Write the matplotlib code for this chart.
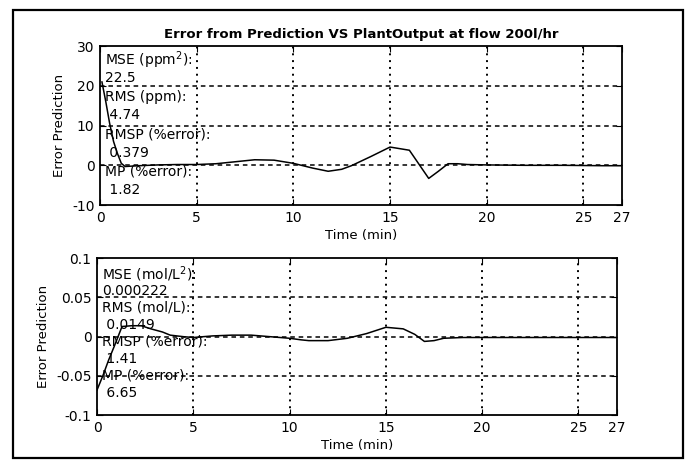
import matplotlib
matplotlib.use("Agg")
import matplotlib.pyplot as plt
from matplotlib.patches import Rectangle

# Concentration prediction error (ppm) over time
t_ppm = [0.1, 0.3, 0.5, 0.7, 0.9, 1.1, 1.3, 2, 3, 4, 5, 6, 7, 8, 9, 10, 11,
         11.8, 12.5, 13, 14, 15, 16, 17, 17.5, 18, 18.5, 19, 20, 22, 24, 26, 27]
err_ppm = [21, 16, 10.5, 6, 3, 0.5, -0.3, -0.1, 0.1, 0.2, 0.2, 0.4, 0.9, 1.4,
           1.3, 0.5, -0.7, -1.5, -1.0, -0.1, 2.2, 4.6, 3.8, -3.3, -1.5, 0.4,
           0.4, 0.2, 0.1, 0.0, 0.0, -0.1, -0.1]

# Concentration prediction error (mol/L) over time
t_mol = [0, 0.3, 0.6, 0.9, 1.3, 1.8, 2.3, 2.8, 3.4, 3.8, 4.5, 5, 6, 7, 8, 9,
         10, 10.6, 11, 12, 13, 14, 15, 15.9, 16.5, 17, 17.5, 18, 19, 20, 22,
         24, 26, 27]
err_mol = [-0.068, -0.05, -0.03, -0.012, 0.013, 0.014, 0.014, 0.010, 0.006,
           0.002, 0.0, -0.001, 0.001, 0.002, 0.002, 0.0, -0.002, -0.004,
           -0.005, -0.005, -0.002, 0.004, 0.012, 0.010, 0.003, -0.006,
           -0.005, -0.002, -0.001, -0.001, -0.001, -0.001, -0.001, -0.001]

x_ticks = [0, 5, 10, 15, 20, 25, 27]
x_grid = [5, 10, 15, 20, 25]
ppm_ticks = [30, 20, 10, 0, -10]
ppm_grid = [20, 10, 0]
mol_ticks = [0.1, 0.05, 0, -0.05, -0.1]
mol_tick_labels = ["0.1", "0.05", "0", "-0.05", "-0.1"]
mol_grid = [0.05, 0, -0.05]

stats_ppm = ["MSE (ppm$^2$):", "22.5", "RMS (ppm):", " 4.74",
             "RMSP (%error):", " 0.379", "MP (%error):", " 1.82"]
stats_mol = ["MSE (mol/L$^2$):", "0.000222", "RMS (mol/L):", " 0.0149",
             "RMSP (%error):", " 1.41", "MP (%error):", " 6.65"]

plt.rcParams["font.family"] = ["DejaVu Sans"]
plt.rcParams["axes.unicode_minus"] = False

fig = plt.figure(figsize=(6.86, 4.67), dpi=100)

# outer frame
fig.patches.append(Rectangle((13 / 686, 1 - 458 / 467), 670 / 686, 448 / 467,
                             transform=fig.transFigure, fill=False,
                             edgecolor="black", linewidth=1.6))

ax1 = fig.add_axes([0.1458, 0.561, 0.761, 0.340])
ax2 = fig.add_axes([0.1414, 0.111, 0.758, 0.336])


def style(ax, yticks, ygrid, ylim):
    ax.set_xlim(0, 27)
    ax.set_ylim(*ylim)
    ax.set_xticks(x_ticks)
    ax.set_yticks(yticks)
    for g in x_grid:
        ax.axvline(g, color="black", linestyle=(0, (1, 2.5)), linewidth=1.4,
                   zorder=1)
    for g in ygrid:
        ax.axhline(g, color="black", linestyle=(0, (3, 2.5)), linewidth=1.1,
                   zorder=1)
    ax.tick_params(direction="in", top=True, right=True, length=4,
                   labelsize=10, pad=4)
    for s in ax.spines.values():
        s.set_linewidth(1.3)
    ax.set_xlabel("Time (min)", fontsize=9.5, labelpad=3)
    ax.set_ylabel("Error Prediction", fontsize=9.5)


style(ax1, ppm_ticks, ppm_grid, (-10, 30))
style(ax2, mol_ticks, mol_grid, (-0.1, 0.1))
ax2.set_yticklabels(mol_tick_labels)

ax1.plot(t_ppm, err_ppm, color="black", linewidth=1.1, zorder=3)
ax2.plot(t_mol, err_mol, color="black", linewidth=1.1, zorder=3)

ax1.set_title("Error from Prediction VS PlantOutput at flow 200l/hr",
              fontsize=9.5, fontweight="bold", pad=6)

for i, s in enumerate(stats_ppm):
    ax1.text(0.01, 0.915 - i * 0.117, s, transform=ax1.transAxes,
             fontsize=10, va="center", ha="left", zorder=4)
for i, s in enumerate(stats_mol):
    ax2.text(0.01, 0.90 - i * 0.108, s, transform=ax2.transAxes,
             fontsize=10, va="center", ha="left", zorder=4)

fig.savefig("out.png", dpi=100, facecolor="white")
